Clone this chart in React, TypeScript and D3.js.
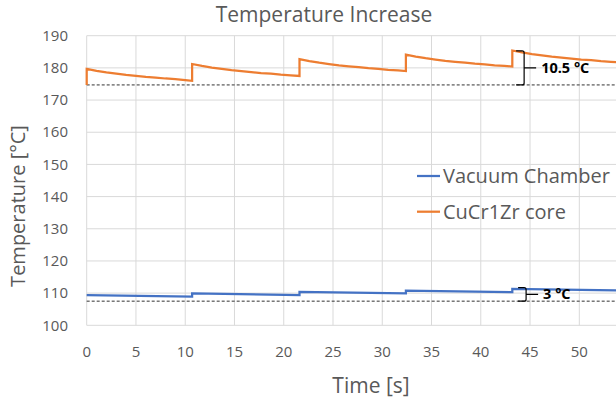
import React from "react";
import * as d3 from "d3";

const xTicks = [0, 5, 10, 15, 20, 25, 30, 35, 40, 45, 50];
const yTicks = [100, 110, 120, 130, 140, 150, 160, 170, 180, 190];

const coreTime = [
  0, 0, 1, 2, 3, 4, 5, 6, 7, 8, 9, 10, 10.7,
  10.7, 11.7, 12.7, 13.7, 14.7, 15.7, 16.7, 17.7, 18.7, 19.7, 20.7, 21.6,
  21.6, 22.6, 23.6, 24.6, 25.6, 26.6, 27.6, 28.6, 29.6, 30.6, 31.6, 32.4,
  32.4, 33.4, 34.4, 35.4, 36.4, 37.4, 38.4, 39.4, 40.4, 41.4, 42.4, 43.2,
  43.2, 44.2, 45.2, 46.2, 47.2, 48.2, 49.2, 50.2, 51.2, 52.2, 53.2, 54.2, 55,
];
const coreTemp = [
  174.7, 179.7, 179.1, 178.6, 178.2, 177.8, 177.5, 177.2, 177.0, 176.7, 176.5, 176.2, 176.0,
  181.2, 180.6, 180.1, 179.7, 179.3, 179.0, 178.7, 178.4, 178.2, 177.9, 177.7, 177.5,
  182.7, 182.1, 181.6, 181.2, 180.8, 180.5, 180.2, 179.9, 179.7, 179.4, 179.2, 179.0,
  184.1, 183.5, 183.0, 182.6, 182.2, 181.9, 181.6, 181.3, 181.1, 180.8, 180.6, 180.4,
  185.4, 184.8, 184.3, 183.9, 183.5, 183.2, 182.9, 182.6, 182.4, 182.1, 181.9, 181.7, 181.5,
];

const chamberTime = [0, 10.7, 10.7, 21.6, 21.6, 32.4, 32.4, 43.2, 43.2, 55];
const chamberTemp = [109.4, 108.9, 109.9, 109.4, 110.4, 109.9, 110.8, 110.3, 111.3, 110.8];

const baselines = [174.7, 107.5];
const annotations = [
  { t: 44.4, low: 174.7, high: 185.3, label: "10.5 °C" },
  { t: 44.6, low: 107.5, high: 111.7, label: "3 °C" },
];

const seriesNames = ["Vacuum Chamber", "CuCr1Zr core"];
const seriesColors = ["#4472C4", "#ED7D31"];

const W = 616;
const H = 405;
const FONT = "'Open Sans', sans-serif";
const GRAY = "#595959";

export default function App() {
  const x = d3.scaleLinear().domain([0, 50]).range([86.7, 579.3]);
  const y = d3.scaleLinear().domain([100, 190]).range([325.3, 35.7]);

  const line = d3
    .line<[number, number]>()
    .x((d) => x(d[0]))
    .y((d) => y(d[1]));

  const coreData = coreTime.map((t, i) => [t, coreTemp[i]] as [number, number]);
  const chamberData = chamberTime.map((t, i) => [t, chamberTemp[i]] as [number, number]);

  const x0 = x(0);
  return (
    <svg
      width={W}
      height={H}
      style={{ position: "fixed", left: 0, top: 0, background: "#fff" }}
      fontFamily={FONT}
    >
      <rect width={W} height={H} fill="#fff" />
      {yTicks.map((v) => (
        <line key={"gy" + v} x1={x0} x2={W} y1={y(v)} y2={y(v)} stroke="#D9D9D9" strokeWidth={1} />
      ))}
      {xTicks.map((v) => (
        <line key={"gx" + v} x1={x(v)} x2={x(v)} y1={y(190)} y2={y(100)} stroke="#D9D9D9" strokeWidth={1} />
      ))}
      {yTicks.map((v) => (
        <text key={"ly" + v} x={68} y={y(v)} dy="0.35em" textAnchor="end" fontSize={15} fill={GRAY}>
          {v}
        </text>
      ))}
      {xTicks.map((v) => (
        <text key={"lx" + v} x={x(v)} y={357} textAnchor="middle" fontSize={15} fill={GRAY}>
          {v}
        </text>
      ))}
      {baselines.map((b) => (
        <line key={"b" + b} x1={x0} x2={W} y1={y(b)} y2={y(b)} stroke="#333" strokeWidth={1} strokeDasharray="3,2" />
      ))}
      <path d={line(chamberData) || ""} fill="none" stroke={seriesColors[0]} strokeWidth={2.25} />
      <path d={line(coreData) || ""} fill="none" stroke={seriesColors[1]} strokeWidth={2.25} />
      {annotations.map((a) => {
        const bx = x(a.t);
        const yt = y(a.high);
        const yb = y(a.low);
        const ym = (yt + yb) / 2;
        const d = `M${bx - 8},${yt} L${bx - 2},${yt} Q${bx},${yt} ${bx},${yt + 2} L${bx},${yb - 2} Q${bx},${yb} ${bx - 2},${yb} L${bx - 8},${yb} M${bx},${ym} L${bx + 12},${ym}`;
        return (
          <g key={a.label}>
            <path d={d} fill="none" stroke="#000" strokeWidth={1.2} />
            <text x={bx + 17} y={ym} dy="0.35em" fontSize={14.5} fontWeight="bold" fill="#000">
              {a.label}
            </text>
          </g>
        );
      })}
      {seriesNames.map((n, i) => (
        <g key={n}>
          <line x1={417} x2={440} y1={176 + i * 35.7} y2={176 + i * 35.7} stroke={seriesColors[i]} strokeWidth={2.25} />
          <text x={443} y={176 + i * 35.7} dy="0.36em" fontSize={20} fill={GRAY}>
            {n}
          </text>
        </g>
      ))}
      <text x={324} y={22} textAnchor="middle" fontSize={21} fill={GRAY}>
        Temperature Increase
      </text>
      <text x={371} y={393} textAnchor="middle" fontSize={21} fill={GRAY}>
        Time [s]
      </text>
      <text transform={`translate(25,206) rotate(-90)`} textAnchor="middle" fontSize={20} fill={GRAY}>
        Temperature [°C]
      </text>
    </svg>
  );
}
